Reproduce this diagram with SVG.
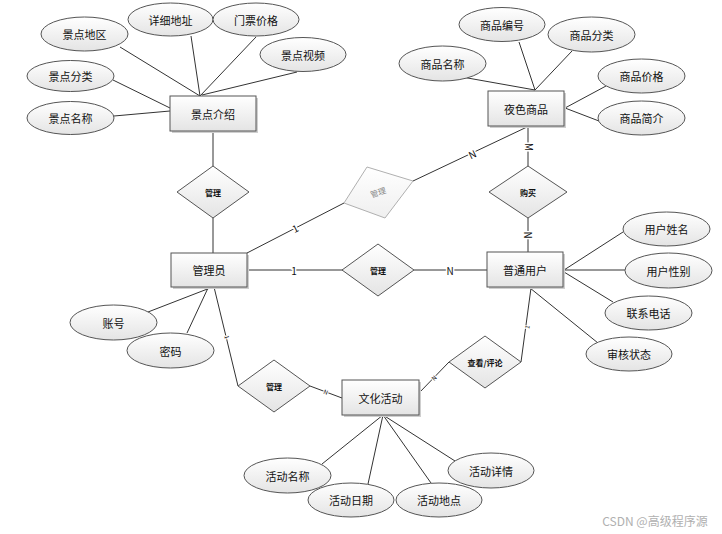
<svg xmlns="http://www.w3.org/2000/svg" width="722" height="534" viewBox="0 0 722 534">
<defs>
<linearGradient id="g" x1="0" y1="0" x2="0" y2="1"><stop offset="0" stop-color="#ffffff"/><stop offset="1" stop-color="#e4e4e4"/></linearGradient>
<linearGradient id="gl" x1="0" y1="0" x2="0" y2="1"><stop offset="0" stop-color="#ffffff"/><stop offset="1" stop-color="#efefef"/></linearGradient>
<style>
text{font-family:"Noto Sans CJK SC","Liberation Sans",sans-serif;fill:#111;text-anchor:middle;dominant-baseline:central}
.t{font-size:11px}
.d{font-size:8px;font-weight:bold}
.lab{font-size:10px;stroke:#fff;stroke-width:3;paint-order:stroke}
.sl{font-size:6px;stroke:#fff;stroke-width:2;paint-order:stroke}
.e ellipse{fill:url(#g);stroke:#555;stroke-width:1}
.r rect.b{fill:url(#g);stroke:#555;stroke-width:1}
.r rect.s{fill:#cfcfcf}
.m polygon{fill:url(#g);stroke:#555;stroke-width:1}
#conn line{stroke:#333;stroke-width:1}
</style>
</defs>
<rect width="722" height="534" fill="#fff"/>
<g id="conn">
<line x1="120" y1="47" x2="200" y2="96"/>
<line x1="191" y1="36" x2="200" y2="96"/>
<line x1="256" y1="37" x2="200" y2="96"/>
<line x1="297" y1="72" x2="202" y2="95"/>
<line x1="113" y1="80" x2="170" y2="108"/>
<line x1="114" y1="116" x2="170" y2="111"/>
<line x1="213" y1="131" x2="213" y2="166"/>
<line x1="213" y1="218" x2="213" y2="253"/>
<line x1="462" y1="77" x2="535" y2="90"/>
<line x1="519" y1="42" x2="535" y2="90"/>
<line x1="572" y1="51" x2="535" y2="90"/>
<line x1="606" y1="86" x2="565" y2="108"/>
<line x1="599" y1="121" x2="565" y2="108"/>
<line x1="528" y1="126" x2="528" y2="166"/>
<line x1="528" y1="218" x2="528" y2="252"/>
<line x1="527" y1="127" x2="413" y2="181"/>
<line x1="344" y1="203" x2="247" y2="253"/>
<line x1="247" y1="270" x2="343" y2="270"/>
<line x1="414" y1="270" x2="487" y2="270"/>
<line x1="623" y1="232" x2="564" y2="270"/>
<line x1="625" y1="270" x2="564" y2="270"/>
<line x1="613" y1="302" x2="564" y2="272"/>
<line x1="598" y1="343" x2="530" y2="288"/>
<line x1="531" y1="288" x2="521" y2="362"/>
<line x1="449" y1="362" x2="419" y2="393"/>
<line x1="214" y1="287" x2="238" y2="386"/>
<line x1="310" y1="386" x2="342" y2="398"/>
<line x1="148" y1="312" x2="210" y2="288"/>
<line x1="187" y1="333" x2="208" y2="288"/>
<line x1="383" y1="415" x2="322" y2="464"/>
<line x1="383" y1="415" x2="368" y2="484"/>
<line x1="383" y1="415" x2="431" y2="483"/>
<line x1="383" y1="415" x2="455" y2="461"/>
<text class="lab" transform="translate(529,147) rotate(90)">M</text>
<text class="lab" transform="translate(528,235) rotate(90)">N</text>
<text class="lab" transform="translate(472,154) rotate(-25)">N</text>
<text class="lab" transform="translate(295,228) rotate(-27)">1</text>
<text class="lab" x="294" y="270">1</text>
<text class="lab" x="450" y="270">N</text>
<text class="sl" transform="translate(227,337) rotate(76)">1</text>
<text class="sl" transform="translate(326,392) rotate(20)">N</text>
<text class="sl" transform="translate(434,378) rotate(-46)">N</text>
<text class="sl" transform="translate(527,327) rotate(-82)">1</text>
</g>
<g class="r">
<g id="jdjs"><rect class="s" x="172" y="98" width="86" height="35"/><rect class="b" x="170" y="96" width="86" height="35"/><text class="t" x="213" y="113.5">景点介绍</text></g>
<g id="ysp"><rect class="s" x="490" y="93" width="76" height="35"/><rect class="b" x="488" y="91" width="76" height="35"/><text class="t" x="526" y="108.5">夜色商品</text></g>
<g id="gly"><rect class="s" x="173" y="255" width="76" height="34"/><rect class="b" x="171" y="253" width="76" height="34"/><text class="t" x="209" y="270">管理员</text></g>
<g id="ptyh"><rect class="s" x="489" y="254" width="76" height="35"/><rect class="b" x="487" y="252" width="76" height="35"/><text class="t" x="525" y="269.5">普通用户</text></g>
<g id="whhd"><rect class="s" x="344" y="382" width="77" height="35"/><rect class="b" x="342" y="380" width="77" height="35"/><text class="t" x="380.5" y="397.5">文化活动</text></g>
</g>
<g class="m">
<g id="d1"><polygon points="213,166 249,192 213,218 177,192"/><text class="d" x="213" y="192">管理</text></g>
<g id="d2"><polygon points="528,166 567,192 528,218 489,192"/><text class="d" x="528" y="192">购买</text></g>
<g id="d3"><polygon points="378,244 414,270 378,296 342,270"/><text class="d" x="378" y="270">管理</text></g>
<g id="d4"><polygon points="485,336 521,362 485,388 449,362"/><text class="d" x="485" y="362">查看/评论</text></g>
<g id="d5"><polygon points="274,360 310,386 274,412 238,386"/><text class="d" x="274" y="386">管理</text></g>
<g id="d6"><polygon points="344,203 367,167 413,181 385,218" style="fill:url(#gl);stroke:#b0b0b0"/><text transform="translate(378,192) rotate(-18)" style="font-size:8px;fill:#888">管理</text></g>
</g>
<g class="e">
<g id="a1"><ellipse cx="84.5" cy="34" rx="43.5" ry="17"/><text class="t" x="84.5" y="34">景点地区</text></g>
<g id="a2"><ellipse cx="170.5" cy="19.5" rx="42.5" ry="16.5"/><text class="t" x="170.5" y="19.5">详细地址</text></g>
<g id="a3"><ellipse cx="256" cy="19.5" rx="43" ry="16.5"/><text class="t" x="256" y="19.5">门票价格</text></g>
<g id="a4"><ellipse cx="303" cy="54.5" rx="43" ry="17"/><text class="t" x="303" y="54.5">景点视频</text></g>
<g id="a5"><ellipse cx="70.5" cy="76" rx="43.5" ry="15.5"/><text class="t" x="70.5" y="76">景点分类</text></g>
<g id="a6"><ellipse cx="70.5" cy="118" rx="43.5" ry="16.5"/><text class="t" x="70.5" y="118">景点名称</text></g>
<g id="b1"><ellipse cx="502" cy="24.5" rx="43" ry="17"/><text class="t" x="502" y="24.5">商品编号</text></g>
<g id="b2"><ellipse cx="591.5" cy="34.5" rx="43.5" ry="17.5"/><text class="t" x="591.5" y="34.5">商品分类</text></g>
<g id="b3"><ellipse cx="442.5" cy="63.5" rx="43.5" ry="17.5"/><text class="t" x="442.5" y="63.5">商品名称</text></g>
<g id="b4"><ellipse cx="641.5" cy="76" rx="43.5" ry="17"/><text class="t" x="641.5" y="76">商品价格</text></g>
<g id="b5"><ellipse cx="641.5" cy="118" rx="43.5" ry="17"/><text class="t" x="641.5" y="118">商品简介</text></g>
<g id="c1"><ellipse cx="666.5" cy="229" rx="43.5" ry="17"/><text class="t" x="666.5" y="229">用户姓名</text></g>
<g id="c2"><ellipse cx="668.5" cy="270.5" rx="43.5" ry="17.5"/><text class="t" x="668.5" y="270.5">用户性别</text></g>
<g id="c3"><ellipse cx="648.5" cy="313" rx="43.5" ry="17"/><text class="t" x="648.5" y="313">联系电话</text></g>
<g id="c4"><ellipse cx="629" cy="354" rx="43" ry="17"/><text class="t" x="629" y="354">审核状态</text></g>
<g id="e1"><ellipse cx="113.5" cy="322.5" rx="43.5" ry="17.5"/><text class="t" x="113.5" y="322.5">账号</text></g>
<g id="e2"><ellipse cx="170.5" cy="350.5" rx="43.5" ry="17.5"/><text class="t" x="170.5" y="350.5">密码</text></g>
<g id="f1"><ellipse cx="287.5" cy="475.5" rx="43.5" ry="17.5"/><text class="t" x="287.5" y="475.5">活动名称</text></g>
<g id="f2"><ellipse cx="351" cy="500" rx="43" ry="17"/><text class="t" x="351" y="500">活动日期</text></g>
<g id="f3"><ellipse cx="439" cy="500" rx="43" ry="17"/><text class="t" x="439" y="500">活动地点</text></g>
<g id="f4"><ellipse cx="491" cy="470.5" rx="43" ry="17.5"/><text class="t" x="491" y="470.5">活动详情</text></g>
</g>
<text x="655" y="520" style="font-size:12px;fill:#b0b0b0">CSDN @高级程序源</text>
</svg>
